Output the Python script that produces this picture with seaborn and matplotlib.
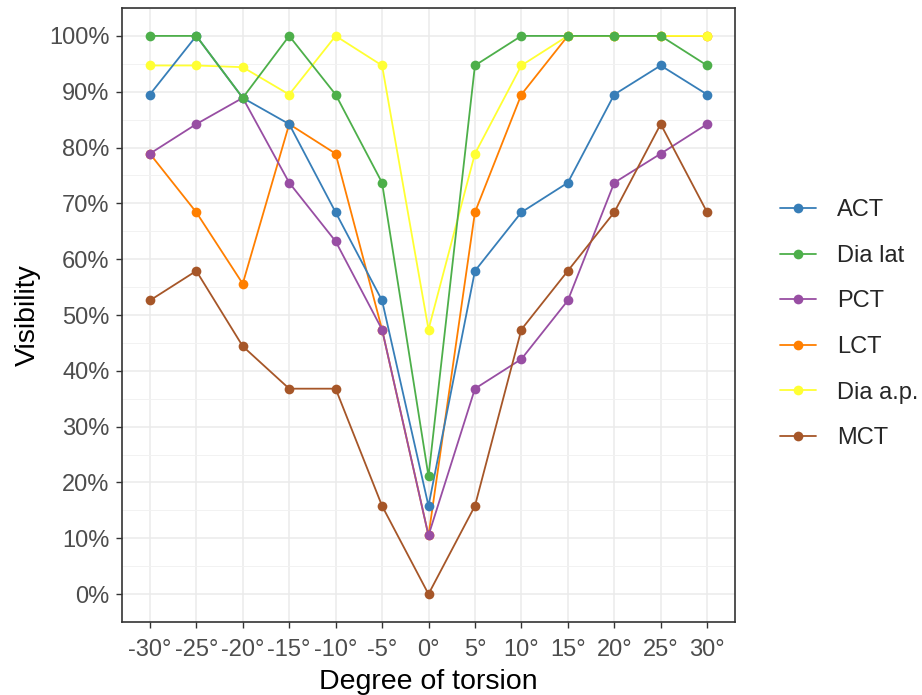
import numpy as np
import pandas as pd
import matplotlib
matplotlib.use("Agg")
import matplotlib.pyplot as plt
import seaborn as sns
from matplotlib.ticker import MultipleLocator, FuncFormatter

degrees = [-30, -25, -20, -15, -10, -5, 0, 5, 10, 15, 20, 25, 30]
tick_labels = ["-30°", "-25°", "-20°", "-15°", "-10°", "-5°", "0°", "5°", "10°", "15°", "20°", "25°", "30°"]
series_names = ["ACT", "Dia lat", "PCT", "LCT", "Dia a.p.", "MCT"]

act = [89.5, 100, 88.9, 84.2, 68.4, 52.6, 15.8, 57.9, 68.4, 73.7, 89.5, 94.7, 89.5]
dia_lat = [100, 100, 88.9, 100, 89.5, 73.7, 21.1, 94.7, 100, 100, 100, 100, 94.7]
pct = [78.9, 84.2, 88.9, 73.7, 63.2, 47.4, 10.5, 36.8, 42.1, 52.6, 73.7, 78.9, 84.2]
lct = [78.9, 68.4, 55.6, 84.2, 78.9, 47.4, 10.5, 68.4, 89.5, 100, 100, 100, 100]
dia_ap = [94.7, 94.7, 94.4, 89.5, 100, 94.7, 47.4, 78.9, 94.7, 100, 100, 100, 100]
mct = [52.6, 57.9, 44.4, 36.8, 36.8, 15.8, 0, 15.8, 47.4, 57.9, 68.4, 84.2, 68.4]

colors = ["#377EB8", "#4DAF4A", "#984EA3", "#FF7F00", "#FFFF33", "#A65628"]

values = [act, dia_lat, pct, lct, dia_ap, mct]
df = pd.concat([
    pd.DataFrame({"deg": degrees, "vis": np.array(v) / 100.0, "series": name})
    for name, v in zip(series_names, values)
], ignore_index=True)

sns.set_theme(style="white")
plt.rcParams["font.family"] = ["Liberation Sans", "DejaVu Sans"]

fig = plt.figure(figsize=(9.22, 6.95), dpi=100)
ax = fig.add_axes([122 / 922, 1 - 622 / 695, (735 - 122) / 922, (622 - 8) / 695])

sns.lineplot(data=df, x="deg", y="vis", hue="series", hue_order=series_names,
             palette=colors, marker="o", markersize=7, markeredgewidth=0,
             linewidth=1.3, ax=ax)

# stacking order of the series (bottom -> top)
stack = {"LCT": 3, "Dia a.p.": 4, "ACT": 5, "PCT": 6, "Dia lat": 7, "MCT": 8}
for line, name in zip(ax.lines[:len(series_names)], series_names):
    line.set_zorder(stack[name])

ax.set_xlim(-33, 33)
ax.set_ylim(-0.05, 1.05)
ax.set_xticks(degrees)
ax.set_xticklabels(tick_labels)
ax.yaxis.set_major_locator(MultipleLocator(0.1))
ax.yaxis.set_minor_locator(MultipleLocator(0.05))
ax.yaxis.set_major_formatter(FuncFormatter(lambda v, p: f"{int(round(v * 100))}%"))

ax.grid(True, which="major", color="#EBEBEB", linewidth=1.1, zorder=0)
ax.grid(True, which="minor", axis="y", color="#F2F2F2", linewidth=0.7, zorder=0)
ax.set_axisbelow(True)
for s in ax.spines.values():
    s.set_color("#333333")
    s.set_linewidth(1.2)

ax.tick_params(axis="both", which="major", length=4, width=1, color="#333333",
               labelsize=17, labelcolor="#4D4D4D", bottom=True, left=True)
ax.tick_params(axis="x", which="major", pad=8)
ax.tick_params(axis="y", which="major", pad=5)
ax.tick_params(axis="y", which="minor", length=0)

ax.set_xlabel("Degree of torsion", fontsize=20.5, color="black", labelpad=6)
ax.set_ylabel("Visibility", fontsize=20.5, color="black", labelpad=6)

leg = ax.legend(title=None, loc="center left", bbox_to_anchor=(1.058, 0.485),
                frameon=False, fontsize=17, labelspacing=1.0, handlelength=1.53,
                handletextpad=0.9, borderaxespad=0)

fig.savefig("out.png", dpi=100)
